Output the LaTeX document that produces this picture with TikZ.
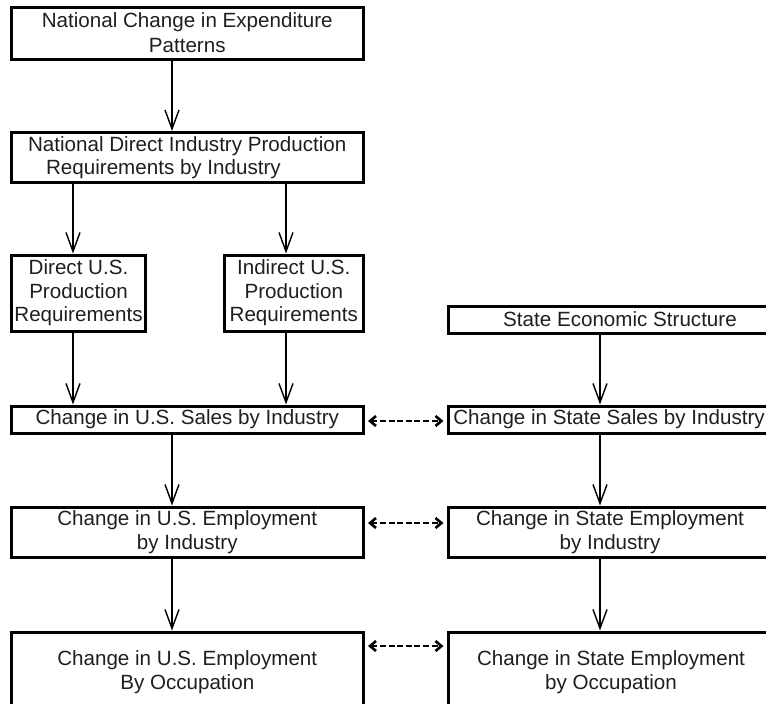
\documentclass[tikz,border=0pt]{standalone}
\usepackage{fontspec}
\setmainfont{Liberation Sans}
\usetikzlibrary{arrows.meta}
\begin{document}
\begin{tikzpicture}[x=1pt,y=1pt,
  box/.style={draw=black, line width=3pt, inner sep=0pt, align=center,
    font=\fontsize{20.6}{23.5}\selectfont, text=black!88},
  flow/.style={line width=1.6pt, -{Straight Barb[length=19pt,width=14pt,line width=1.4pt]}},
  linktip/.style={Straight Barb[length=6pt,width=10pt,line width=2.6pt]},
  link/.style={line width=2.6pt, dash pattern=on 6pt off 2.6pt,
    {Straight Barb[length=6pt,width=10pt,line width=2.6pt]}-{Straight Barb[length=6pt,width=10pt,line width=2.6pt]},
    shorten <=3.5pt, shorten >=3.5pt}
]
\useasboundingbox (0,0) rectangle (766,-704);

% columns of the vertical connectors
\coordinate (cA) at (73,0);
\coordinate (cB) at (172,0);
\coordinate (cC) at (286,0);
\coordinate (cD) at (600,0);

% national side
\node[box, minimum width=351.5pt, minimum height=52pt,
  font=\fontsize{20.6}{25}\selectfont] (natexp) at (187.25,-33)
  {National Change in Expenditure\\Patterns};
\node[box, minimum width=351.5pt, minimum height=50pt, align=left] (natreq) at (187.25,-157.5)
  {National Direct Industry Production\\\hspace*{18pt}Requirements by Industry};
\node[box, minimum width=134pt, minimum height=76pt] (dirreq) at (78.5,-293)
  {Direct U.S.\\Production\\Requirements};
\node[box, minimum width=138.5pt, minimum height=76pt] (indreq) at (293.75,-293)
  {Indirect U.S.\\Production\\Requirements};
\node[box, minimum width=351.5pt, minimum height=27pt] (ussales) at (187.25,-419.5)
  {Change in U.S. Sales by Industry};
\node[box, minimum width=351.5pt, minimum height=50pt] (usemp) at (187.25,-532)
  {Change in U.S. Employment\\by Industry};
\node[box, minimum width=351.5pt, minimum height=80pt] (usocc) at (187.25,-672)
  {Change in U.S. Employment\\By Occupation};

% state side (boxes run past the right edge)
\node[box, minimum width=343pt, minimum height=27pt] (stecon) at (620,-319.5)
  {State Economic Structure};
\node[box, minimum width=321pt, minimum height=27pt] (stsales) at (609,-419.5)
  {Change in State Sales by Industry};
\node[box, minimum width=323pt, minimum height=50pt] (stemp) at (610,-532)
  {Change in State Employment\\by Industry};
\node[box, minimum width=325pt, minimum height=80pt] (stocc) at (611,-672)
  {Change in State Employment\\by Occupation};

% vertical flow
\draw[flow] (natexp.south -| cB) -- (natreq.north -| cB);
\draw[flow] (natreq.south -| cA) -- (dirreq.north -| cA);
\draw[flow] (natreq.south -| cC) -- (indreq.north -| cC);
\draw[flow] (dirreq.south -| cA) -- (ussales.north -| cA);
\draw[flow] (indreq.south -| cC) -- (ussales.north -| cC);
\draw[flow] (ussales.south -| cB) -- (usemp.north -| cB);
\draw[flow] (usemp.south -| cB) -- (usocc.north -| cB);
\draw[flow] (stecon.south -| cD) -- (stsales.north -| cD);
\draw[flow] (stsales.south -| cD) -- (stemp.north -| cD);
\draw[flow] (stemp.south -| cD) -- (stocc.north -| cD);

% links between national and state figures
\draw[link] ([yshift=-1.5pt]ussales.east) -- ([yshift=-1.5pt]ussales.east -| stsales.west);
\draw[link] ([yshift=9pt]usemp.east) -- ([yshift=9pt]usemp.east -| stemp.west);
\draw[link] ([yshift=26pt]usocc.east) -- ([yshift=26pt]usocc.east -| stocc.west);
\end{tikzpicture}
\end{document}
